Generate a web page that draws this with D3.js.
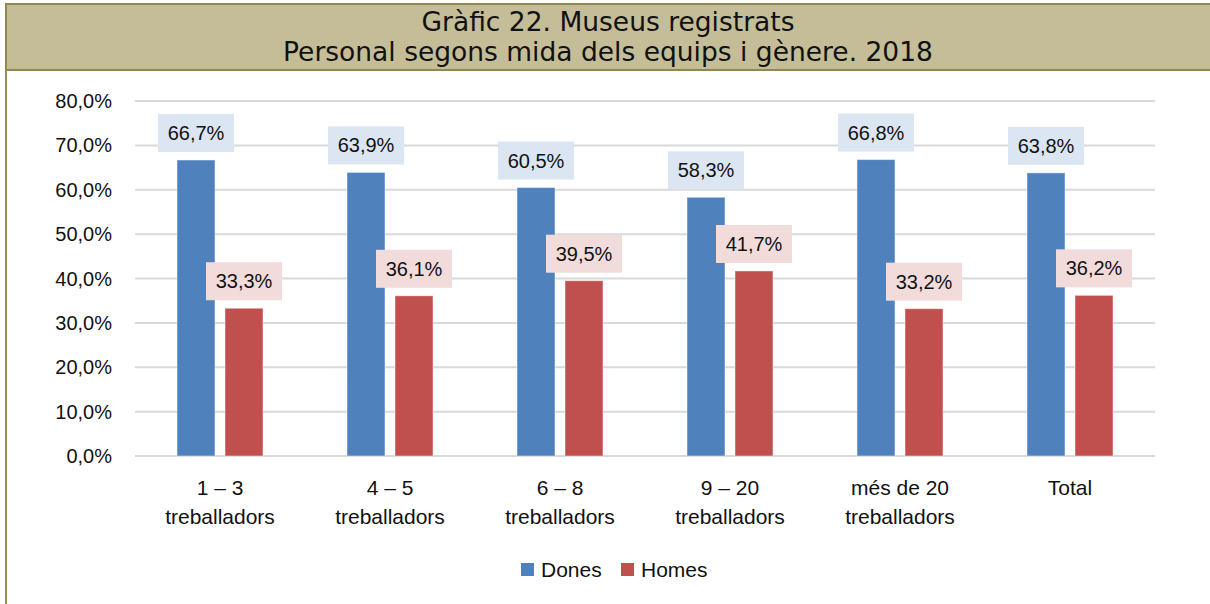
<!DOCTYPE html>
<html>
<head>
<meta charset="utf-8">
<script src="https://cdn.jsdelivr.net/npm/d3@7"></script>
<style>
    body { margin: 0; background: #fff; }
    svg { display: block; }
</style>
</head>
<body>
<svg id="chart"></svg>
<script>
// data
const categories = ['1 – 3|treballadors', '4 – 5|treballadors', '6 – 8|treballadors',
    '9 – 20|treballadors', 'més de 20|treballadors', 'Total'];
const series = ['Dones', 'Homes'];
const dones = [66.7, 63.9, 60.5, 58.3, 66.8, 63.8];
const homes = [33.3, 36.1, 39.5, 41.7, 33.2, 36.2];
const yTicks = [0, 10, 20, 30, 40, 50, 60, 70, 80];
const titleLines = ['Gràfic 22. Museus registrats', 'Personal segons mida dels equips i gènere. 2018'];

const colors = { Dones: '#4f81bd', Homes: '#c0504d' };
const labelBg = { Dones: '#dce6f2', Homes: '#f2dcdb' };

const W = 1210, H = 604;
const margin = { top: 101, right: 55, bottom: 148, left: 135 };
const font = "'Liberation Sans', Arial, sans-serif";

const svg = d3.select('#chart').attr('width', W).attr('height', H);

// title band
svg.append('rect')
    .attr('x', 6).attr('y', 4)
    .attr('width', W + 10).attr('height', 66)
    .attr('fill', '#c4bd97')
    .attr('stroke', '#8f8852')
    .attr('stroke-width', 2);
svg.append('line')
    .attr('x1', 6).attr('x2', 6)
    .attr('y1', 70).attr('y2', H)
    .attr('stroke', '#948f56')
    .attr('stroke-width', 2);

svg.append('g')
    .selectAll('text')
    .data(titleLines)
    .join('text')
    .attr('x', 608)
    .attr('y', (d, i) => 31 + i * 30)
    .attr('text-anchor', 'middle')
    .attr('font-family', "'DejaVu Sans', Verdana, sans-serif")
    .attr('font-size', 26.5)
    .attr('fill', '#111')
    .text(d => d);

// scales
const x0 = d3.scaleBand()
    .domain(categories)
    .range([margin.left, W - margin.right]);
const groupW = 86;
const x1 = d3.scaleBand()
    .domain(series)
    .range([0, groupW])
    .paddingInner(10 / 48);
const y = d3.scaleLinear()
    .domain([0, 80])
    .range([H - margin.bottom, margin.top]);

// grid
svg.append('g')
    .selectAll('line')
    .data(yTicks)
    .join('line')
    .attr('x1', margin.left)
    .attr('x2', W - margin.right)
    .attr('y1', d => y(d))
    .attr('y2', d => y(d))
    .attr('stroke', '#d9d9d9')
    .attr('stroke-width', 2);

const fmt = v => d3.format('.1f')(v).replace('.', ',');

// y axis labels
svg.append('g')
    .selectAll('text')
    .data(yTicks)
    .join('text')
    .attr('x', 112)
    .attr('y', d => y(d))
    .attr('dy', '0.35em')
    .attr('text-anchor', 'end')
    .attr('font-family', font)
    .attr('font-size', 20)
    .attr('fill', '#111')
    .text(d => fmt(d) + '%');

// bars
const rows = categories.map((c, i) => ({ cat: c, Dones: dones[i], Homes: homes[i] }));
const groupOffset = (x0.bandwidth() - groupW) / 2;

const groups = svg.append('g')
    .selectAll('g')
    .data(rows)
    .join('g')
    .attr('transform', d => `translate(${x0(d.cat) + groupOffset},0)`);

const cells = groups.selectAll('g')
    .data(d => series.map(s => ({ s, v: d[s] })))
    .join('g');

cells.append('rect')
    .attr('x', d => x1(d.s))
    .attr('y', d => y(d.v))
    .attr('width', x1.bandwidth())
    .attr('height', d => y(0) - y(d.v))
    .attr('fill', d => colors[d.s])
    .attr('stroke', 'rgba(255,255,255,0.45)')
    .attr('stroke-width', 1);

// data labels
const boxW = 76, boxH = 38;
cells.append('rect')
    .attr('x', d => x1(d.s) + x1.bandwidth() / 2 - boxW / 2)
    .attr('y', d => y(d.v) - 8 - boxH)
    .attr('width', boxW)
    .attr('height', boxH)
    .attr('fill', d => labelBg[d.s]);
cells.append('text')
    .attr('x', d => x1(d.s) + x1.bandwidth() / 2)
    .attr('y', d => y(d.v) - 8 - boxH / 2)
    .attr('dy', '0.35em')
    .attr('text-anchor', 'middle')
    .attr('font-family', font)
    .attr('font-size', 20)
    .attr('fill', '#111')
    .text(d => fmt(d.v) + '%');

// x labels
const xl = svg.append('g')
    .selectAll('text')
    .data(categories)
    .join('text')
    .attr('x', d => x0(d) + x0.bandwidth() / 2)
    .attr('y', 495)
    .attr('text-anchor', 'middle')
    .attr('font-family', font)
    .attr('font-size', 21)
    .attr('fill', '#111');
xl.selectAll('tspan')
    .data(d => d.split('|'))
    .join('tspan')
    .attr('x', function () { return d3.select(this.parentNode).attr('x'); })
    .attr('dy', (d, i) => (i ? 29 : 0))
    .text(d => d);

// legend
const legend = svg.append('g')
    .selectAll('g')
    .data(series)
    .join('g')
    .attr('transform', (d, i) => `translate(${521 + i * 100},563)`);
legend.append('rect')
    .attr('width', 13)
    .attr('height', 13)
    .attr('fill', d => colors[d]);
legend.append('text')
    .attr('x', 20)
    .attr('y', 14)
    .attr('font-family', font)
    .attr('font-size', 21)
    .attr('fill', '#111')
    .text(d => d);
</script>
</body>
</html>
